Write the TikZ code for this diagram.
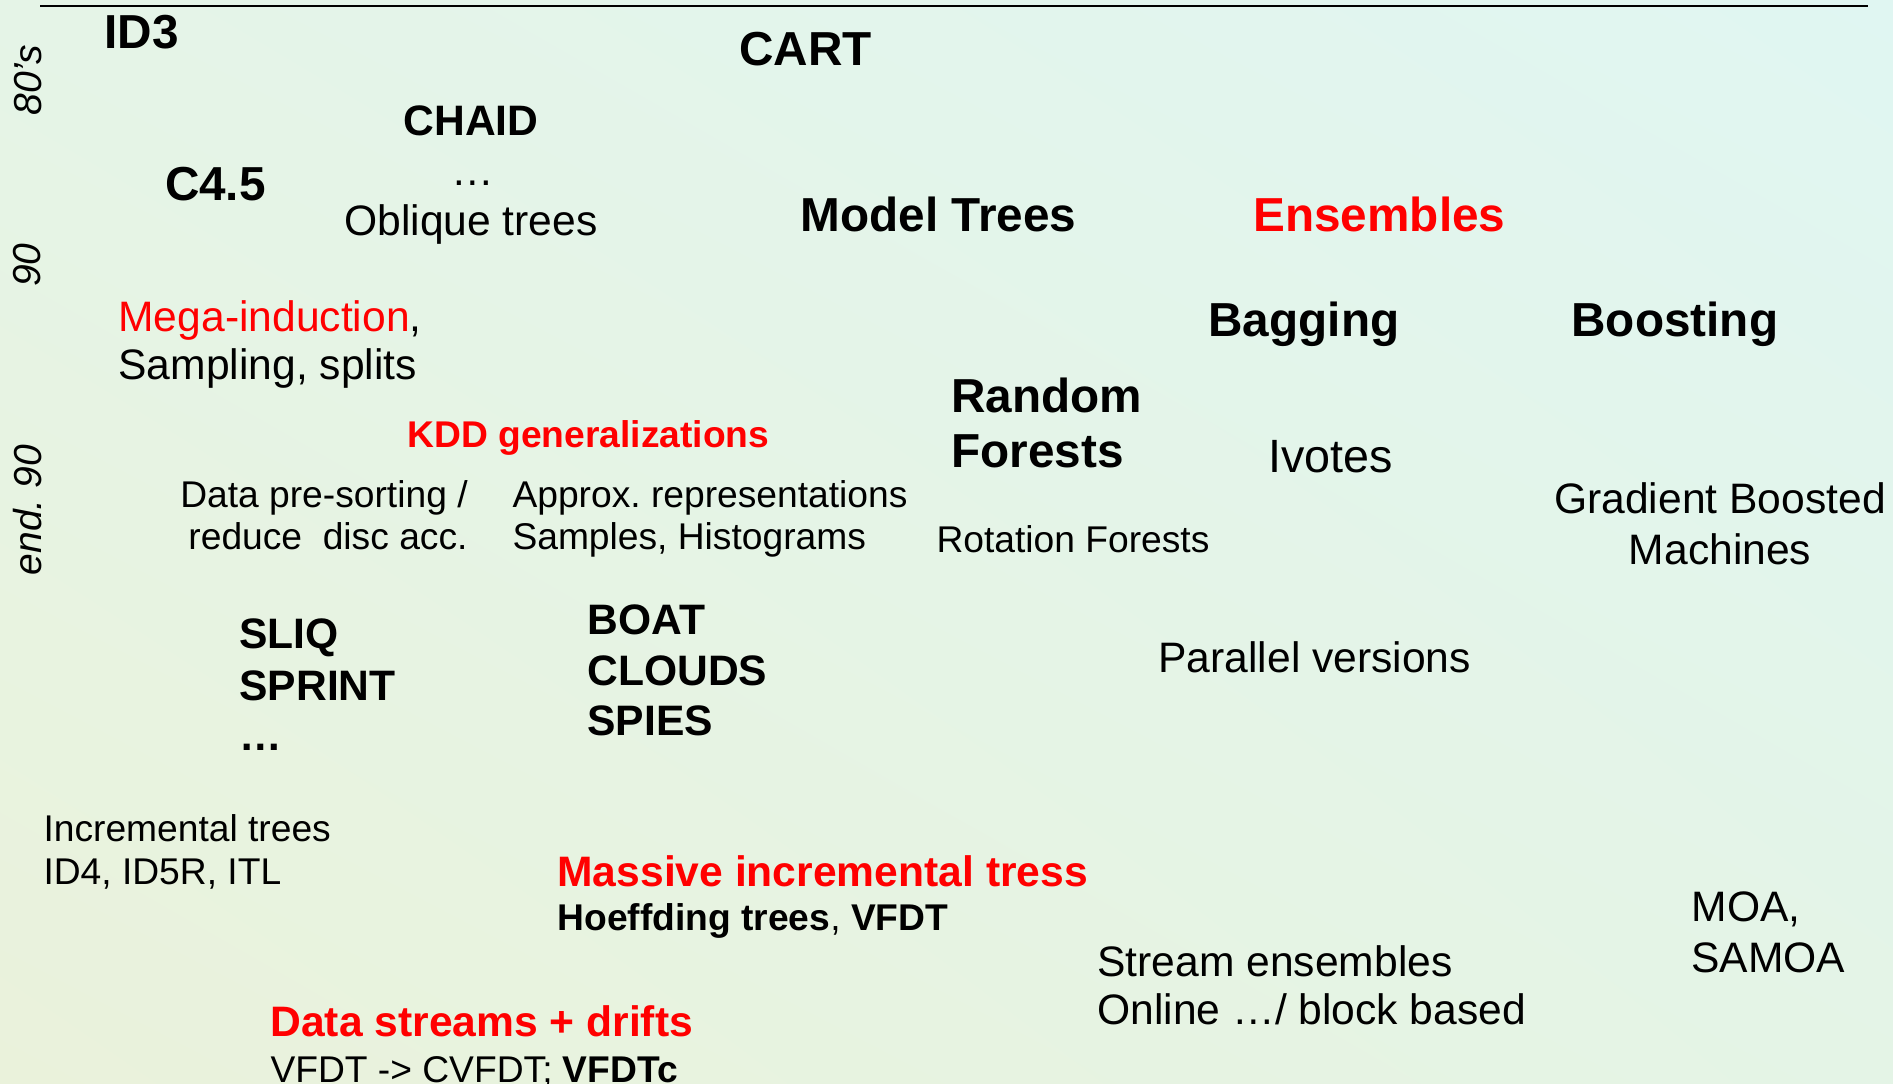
\documentclass[tikz,border=0pt]{standalone}
\usepackage{fontspec}
\usetikzlibrary{shadings}
\setmainfont{Liberation Sans}
\frenchspacing
\definecolor{bgUL}{RGB}{229,244,231}
\definecolor{bgUR}{RGB}{224,246,242}
\definecolor{bgLL}{RGB}{234,242,219}
\definecolor{bgLR}{RGB}{228,244,230}
\definecolor{hot}{RGB}{255,0,0}
\tikzset{
  lbl/.style={anchor=base west, inner sep=0pt, outer sep=0pt, text=black},
  lblc/.style={lbl, anchor=base},
  big/.style={font=\fontsize{47.7}{56}\selectfont\bfseries},
  midr/.style={font=\fontsize{42.6}{50}\selectfont},
  midb/.style={font=\fontsize{42.6}{50}\selectfont\bfseries},
  smr/.style={font=\fontsize{37.2}{44}\selectfont},
  smb/.style={font=\fontsize{37.2}{44}\selectfont\bfseries},
  red text/.style={text=hot},
  era/.style={font=\fontsize{39}{46}\selectfont\itshape, rotate=90, anchor=center, inner sep=0pt},
  rule/.style={line width=2pt, draw=black},
}
\begin{document}
\begin{tikzpicture}[x=1pt,y=-1pt]
\useasboundingbox (0,0) rectangle (1893,1084);
% soft diagonal background
\shade[upper left=bgUL, upper right=bgUR, lower left=bgLL, lower right=bgLR] (0,0) rectangle (1893,1084);

% time rule along the top
\coordinate (ruleL) at (40,6);
\coordinate (ruleR) at (1868,6);
\draw[rule] (ruleL) -- (ruleR);

% era markers
\node[era] (e80) at (28,80) {80’s};
\node[era] (e90) at (27,265) {90};
\node[era] (eend) at (28,510) {end. 90};

% 80's
\node[lbl, big] (id3) at (104.5,48) {ID3};
\node[lbl, big] (cart) at (739.5,65) {CART};
\node[lblc, midb] (chaid) at (471,135) {CHAID};
\node[lblc, midr] (odots) at (473,185) {…};
\node[lblc, midr] (oblique) at (471,235) {Oblique trees};
\node[lbl, big] (c45) at (165,200) {C4.5};
\node[lbl, big] (model) at (800.5,231) {Model Trees};
\node[lbl, big, red text] (ens) at (1253.5,231) {Ensembles};

% 90
\node[lbl, midr] (mega) at (118.5,331) {\textcolor{hot}{Mega-induction},};
\node[lbl, midr] (samp) at (118.5,379) {Sampling, splits};
\node[lbl, big] (bag) at (1208.5,336) {Bagging};
\node[lbl, big] (boost) at (1571.5,336) {Boosting};
\node[lbl, big] (rf1) at (951.5,412) {Random};
\node[lbl, big] (rf2) at (951.5,467) {Forests};
\node[lbl, smb, red text] (kdd) at (407.5,447) {KDD generalizations};
\node[lbl, midr] (ivotes) at (1268.5,472) {\fontsize{46.7}{55}\selectfont Ivotes};

% end 90
\node[lblc, smr] (dps1) at (324,507) {Data pre-sorting /};
\node[lblc, smr] (dps2) at (328,549) {reduce~ disc acc.};
\node[lbl, smr] (apx1) at (512.5,507) {Approx. representations};
\node[lbl, smr] (apx2) at (512.5,549) {Samples, Histograms};
\node[lbl, smr] (rot) at (936.5,552) {Rotation Forests};
\node[lblc, midr] (gb1) at (1720,513) {Gradient Boosted};
\node[lblc, midr] (gb2) at (1720,564) {Machines};

\node[lbl, midb] (sliq) at (239.5,648) {SLIQ};
\node[lbl, midb] (sprint) at (239.5,700) {SPRINT};
\node[lbl, midb] (sdots) at (239.5,750) {…};
\node[lbl, midb] (boat) at (587.5,634) {BOAT};
\node[lbl, midb] (clouds) at (587.5,685) {CLOUDS};
\node[lbl, midb] (spies) at (587.5,735) {SPIES};
\node[lbl, midr] (par) at (1158.5,672) {Parallel versions};

% streams
\node[lbl, smr] (inc1) at (43.5,841) {Incremental trees};
\node[lbl, smr] (inc2) at (43.5,884) {ID4, ID5R, ITL};
\node[lbl, midb, red text] (massive) at (557.5,886) {Massive incremental tress};
\node[lbl, smr] (hoef) at (557.5,930) {\textbf{Hoeffding trees}, \textbf{VFDT}};
\node[lbl, midr] (moa) at (1691.5,921) {MOA,};
\node[lbl, midr] (samoa) at (1691.5,972) {SAMOA};
\node[lbl, midr] (se1) at (1097.5,976) {Stream ensembles};
\node[lbl, midr] (se2) at (1097.5,1024) {Online …/ block based};
\node[lbl, midb, red text] (drift) at (270.5,1036) {Data streams + drifts};
\node[lbl, smr] (vfdt) at (270.5,1082) {VFDT -> CVFDT; \textbf{VFDTc}};
\end{tikzpicture}
\end{document}
